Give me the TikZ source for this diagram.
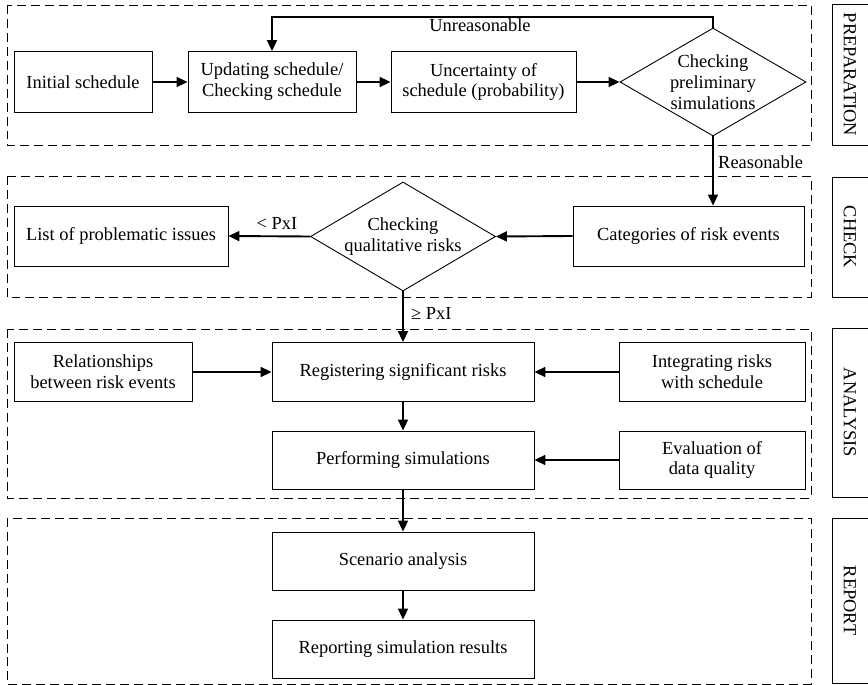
\documentclass[tikz,border=0pt]{standalone}
\usepackage{fontspec}
\setmainfont{Liberation Serif}
\usetikzlibrary{arrows.meta,shapes.geometric}
\begin{document}
\begin{tikzpicture}[x=1bp,y=-1bp,
  font=\fontsize{18.5}{21}\selectfont,
  box/.style={draw,line width=0.9pt,inner sep=0pt,align=center,minimum height=60bp},
  dia/.style={draw,diamond,line width=0.9pt,inner sep=-12pt,align=center},
  grp/.style={draw,line width=0.9pt,dash pattern=on 9pt off 5pt},
  lab/.style={draw,line width=0.9pt},
  arr/.style={line width=1.9pt,-{Triangle[length=11pt,width=10pt]}},
  lbl/.style={inner sep=0pt}
]
\useasboundingbox (0,0) rectangle (868,685);
% groups
\draw[grp] (7,5) rectangle (811,145);
\draw[grp] (7,176) rectangle (811,297);
\draw[grp] (7,329) rectangle (811,498);
\draw[grp] (7,518) rectangle (811,684);
% side labels
\draw[lab] (832,4) rectangle (872,145);
\draw[lab] (832,177) rectangle (872,297);
\draw[lab] (832,328) rectangle (872,497);
\draw[lab] (832,518) rectangle (872,683);
\node[lbl,rotate=-90] (tprep) at (850,74.5) {PREPARATION};
\node[lbl,rotate=-90] (tcheck) at (850,237) {CHECK};
\node[lbl,rotate=-90] (tana) at (850,412.5) {ANALYSIS};
\node[lbl,rotate=-90] (trep) at (850,600.5) {REPORT};
% nodes
\node[box,minimum width=138bp,minimum height=61bp] (init) at (83,82) {Initial schedule};
\node[box,minimum width=168bp,minimum height=61bp] (upd) at (272,82) {Updating schedule/\\Checking schedule};
\node[box,minimum width=185bp,minimum height=61bp] (unc) at (483.5,82) {Uncertainty of\\schedule (probability)};
\node[dia,minimum width=186bp,minimum height=108bp] (d1) at (713,82) {Checking\\preliminary\\simulations};
\node[box,minimum width=214bp] (list) at (121,236) {List of problematic issues};
\node[dia,minimum width=185bp,minimum height=109bp] (d2) at (403,236.5) {Checking\\qualitative risks};
\node[box,minimum width=231bp] (cat) at (688.5,236) {Categories of risk events};
\node[box,minimum width=178bp,minimum height=59bp] (rel) at (103,372) {Relationships\\between risk events};
\node[box,minimum width=262bp,minimum height=59bp] (reg) at (403,372) {Registering significant risks};
\node[box,minimum width=186bp,minimum height=59bp] (integ) at (712,372) {Integrating risks\\with schedule};
\node[box,minimum width=262bp,minimum height=58bp] (perf) at (403,460) {Performing simulations};
\node[box,minimum width=186bp,minimum height=58bp] (eval) at (712,460) {Evaluation of\\data quality};
\node[box,minimum width=262bp,minimum height=58bp] (scen) at (403,561) {Scenario analysis};
\node[box,minimum width=262bp,minimum height=58bp] (rep) at (403,649) {Reporting simulation results};
% connectors
\draw[arr] (init.east) -- (upd.west);
\draw[arr] (upd.east) -- (unc.west);
\draw[arr] (unc.east) -- (d1.west);
\coordinate (lr) at (713,17);
\coordinate (ll) at (272,17);
\draw[arr] (d1.north) -- (lr) -- (ll) -- (upd.north);
\node[lbl,anchor=north] (tunr) at (480,19) {Unreasonable};
\draw[arr] (d1.south) -- (d1.south |- cat.north);
\node[lbl,anchor=west] (treas) at (718,162) {Reasonable};
\draw[arr] (cat.west) -- (d2.east);
\draw[arr] (d2.west) -- (list.east);
\node[lbl] (tlt) at (277,223) {< PxI};
\draw[arr] (d2.south) -- (reg.north);
\node[lbl,anchor=west] (tge) at (411,313) {≥ PxI};
\draw[arr] (rel.east) -- (reg.west);
\draw[arr] (integ.west) -- (reg.east);
\draw[arr] (reg.south) -- (perf.north);
\draw[arr] (eval.west) -- (perf.east);
\draw[arr] (perf.south) -- (scen.north);
\draw[arr] (scen.south) -- (rep.north);
\end{tikzpicture}
\end{document}
